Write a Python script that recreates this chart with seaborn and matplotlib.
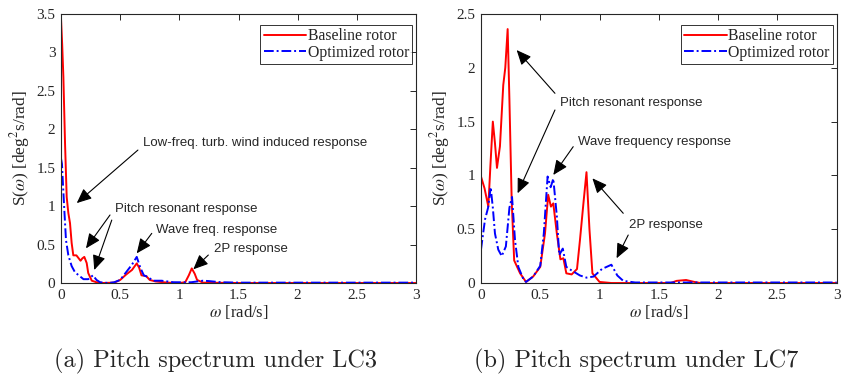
import numpy as np
import pandas as pd
import matplotlib
matplotlib.use("Agg")
import matplotlib.pyplot as plt
import seaborn as sns

# LC3 pitch spectrum
w_lc3_base = [0.0, 0.01, 0.02, 0.034, 0.048, 0.062, 0.076, 0.09, 0.104, 0.13, 0.15, 0.165, 0.18,
              0.197, 0.217, 0.23, 0.26, 0.3, 0.35, 0.45, 0.5, 0.55, 0.6, 0.64, 0.66, 0.68, 0.72,
              0.75, 0.8, 0.9, 1.0, 1.05, 1.08, 1.105, 1.13, 1.15, 1.2, 1.5, 2.0, 2.5, 3.0]
s_lc3_base = [3.44, 3.1, 2.68, 1.82, 1.12, 0.91, 0.78, 0.52, 0.36, 0.36, 0.32, 0.29, 0.32,
              0.34, 0.26, 0.13, 0.03, 0.01, 0.0, 0.005, 0.04, 0.11, 0.17, 0.255, 0.2, 0.1, 0.09,
              0.04, 0.02, 0.005, 0.0, 0.01, 0.1, 0.19, 0.12, 0.04, 0.005, 0.0, 0.0, 0.0, 0.0]

w_lc3_opt = [0.0, 0.008, 0.016, 0.028, 0.042, 0.062, 0.09, 0.118, 0.15, 0.19, 0.23, 0.27, 0.3,
             0.33, 0.4, 0.45, 0.5, 0.55, 0.6, 0.64, 0.67, 0.7, 0.73, 0.78, 0.85, 0.95, 1.1,
             1.2, 1.25, 1.35, 1.5, 2.0, 2.5, 3.0]
s_lc3_opt = [1.62, 1.55, 1.3, 0.95, 0.56, 0.36, 0.22, 0.14, 0.1, 0.05, 0.05, 0.1, 0.04,
             0.01, 0.0, 0.01, 0.04, 0.14, 0.24, 0.34, 0.2, 0.1, 0.08, 0.03, 0.03, 0.01, 0.01,
             0.03, 0.025, 0.01, 0.005, 0.005, 0.005, 0.005]

# LC7 pitch spectrum
w_lc7_base = [0.0, 0.03, 0.062, 0.08, 0.1, 0.118, 0.135, 0.16, 0.188, 0.205, 0.225, 0.24, 0.259,
              0.28, 0.33, 0.38, 0.44, 0.5, 0.54, 0.567, 0.59, 0.61, 0.64, 0.67, 0.695, 0.72,
              0.765, 0.81, 0.835, 0.865, 0.89, 0.915, 0.94, 1.0, 1.1, 1.6, 1.65, 1.73, 1.8, 1.85,
              2.5, 3.0]
s_lc7_base = [0.99, 0.88, 0.71, 1.1, 1.5, 1.3, 1.07, 1.27, 1.84, 2.0, 2.36, 1.7, 0.77,
              0.21, 0.09, 0.01, 0.06, 0.15, 0.46, 0.82, 0.71, 0.74, 0.46, 0.22, 0.23, 0.09,
              0.08, 0.13, 0.4, 0.75, 1.03, 0.5, 0.09, 0.01, 0.0, 0.0, 0.02, 0.028, 0.01, 0.0,
              0.0, 0.0]

w_lc7_opt = [0.0, 0.034, 0.06, 0.082, 0.1, 0.118, 0.146, 0.175, 0.21, 0.24, 0.262, 0.287, 0.315,
             0.36, 0.38, 0.44, 0.5, 0.53, 0.562, 0.588, 0.61, 0.64, 0.66, 0.69, 0.72, 0.76,
             0.835, 0.89, 0.95, 1.02, 1.1, 1.15, 1.2, 1.3, 2.0, 3.0]
s_lc7_opt = [0.31, 0.59, 0.7, 0.89, 0.7, 0.46, 0.31, 0.25, 0.34, 0.7, 0.8, 0.4, 0.15,
             0.03, 0.01, 0.06, 0.16, 0.46, 0.99, 0.89, 0.97, 0.62, 0.26, 0.32, 0.15, 0.12,
             0.07, 0.05, 0.06, 0.13, 0.17, 0.07, 0.02, 0.005, 0.005, 0.005]

xticks = [0, 0.5, 1, 1.5, 2, 2.5, 3]
yticks_a = [0, 0.5, 1, 1.5, 2, 2.5, 3, 3.5]
yticks_b = [0, 0.5, 1, 1.5, 2, 2.5]
tick_labels_x = ["0", "0.5", "1", "1.5", "2", "2.5", "3"]
series_names = ["Baseline rotor", "Optimized rotor"]
captions = ["(a) Pitch spectrum under LC3", "(b) Pitch spectrum under LC7"]

sns.set_style("white")
plt.rcParams["font.family"] = ["Liberation Serif", "DejaVu Serif"]
plt.rcParams["mathtext.fontset"] = "stix"

fig = plt.figure(figsize=(8.45, 3.86), dpi=100)
ax_a = fig.add_axes([0.0722, 0.2668, 0.4201, 0.6969])
ax_b = fig.add_axes([0.5692, 0.2668, 0.4209, 0.6969])

arrow = dict(arrowstyle="-|>,head_length=0.5,head_width=0.22", color="k", lw=0.8,
             mutation_scale=18, shrinkA=0, shrinkB=0)
ann_font = dict(family="Liberation Sans", fontsize=9.5, va="center", ha="left")


def draw_panel(ax, wb, sb, wo, so, yticks):
    base = pd.DataFrame({"w": wb, "S": sb})
    opt = pd.DataFrame({"w": wo, "S": so})
    sns.lineplot(data=base, x="w", y="S", ax=ax, color="#ff0000", lw=1.4,
                 label=series_names[0])
    sns.lineplot(data=opt, x="w", y="S", ax=ax, color="#0000ff", lw=1.4,
                 linestyle=(0, (5, 1.5, 1, 1.5)), label=series_names[1])
    ax.set_xlim(0, 3)
    ax.set_ylim(0, yticks[-1])
    ax.set_xticks(xticks)
    ax.set_xticklabels(tick_labels_x)
    ax.set_yticks(yticks)
    ax.set_yticklabels([f"{t:g}" for t in yticks])
    ax.tick_params(direction="in", top=True, right=True, length=4, width=0.7,
                   labelsize=11, colors="#262626", pad=4)
    for sp in ax.spines.values():
        sp.set_visible(True)
        sp.set_color("#262626")
        sp.set_linewidth(0.8)
    ax.set_xlabel(r"$\omega$ [rad/s]", fontsize=12, color="#262626", labelpad=1)
    ax.set_ylabel(r"S($\omega$) [deg$^2$s/rad]", fontsize=12.5, color="#262626", labelpad=3)
    leg = ax.legend(loc="upper right", bbox_to_anchor=(0.989, 0.959), borderaxespad=0,
                    fontsize=11.3, frameon=True, fancybox=False, edgecolor="k",
                    handlelength=2.7, handletextpad=0.1, borderpad=0.2, labelspacing=0.05)
    leg.get_frame().set_linewidth(0.7)


draw_panel(ax_a, w_lc3_base, s_lc3_base, w_lc3_opt, s_lc3_opt, yticks_a)
draw_panel(ax_b, w_lc7_base, s_lc7_base, w_lc7_opt, s_lc7_opt, yticks_b)

# annotations, panel (a)
ax_a.text(0.693, 1.82, "Low-freq. turb. wind induced response", **ann_font)
ax_a.annotate("", xy=(0.133, 1.04), xytext=(0.65, 1.73), arrowprops=arrow)
ax_a.text(0.456, 0.958, "Pitch resonant response", **ann_font)
ax_a.annotate("", xy=(0.211, 0.451), xytext=(0.414, 0.885), arrowprops=arrow)
ax_a.annotate("", xy=(0.281, 0.169), xytext=(0.429, 0.819), arrowprops=arrow)
ax_a.text(0.806, 0.689, "Wave freq. response", **ann_font)
ax_a.annotate("", xy=(0.64, 0.386), xytext=(0.767, 0.646), arrowprops=arrow)
ax_a.text(1.293, 0.438, "2P response", **ann_font)
ax_a.annotate("", xy=(1.118, 0.178), xytext=(1.245, 0.364), arrowprops=arrow)

# annotations, panel (b)
ax_b.text(0.666, 1.67, "Pitch resonant response", **ann_font)
ax_b.annotate("", xy=(0.301, 2.165), xytext=(0.624, 1.763), arrowprops=arrow)
ax_b.annotate("", xy=(0.309, 0.834), xytext=(0.624, 1.608), arrowprops=arrow)
ax_b.text(0.82, 1.313, "Wave frequency response", **ann_font)
ax_b.annotate("", xy=(0.61, 1.004), xytext=(0.778, 1.267), arrowprops=arrow)
ax_b.text(1.248, 0.539, "2P response", **ann_font)
ax_b.annotate("", xy=(0.94, 0.973), xytext=(1.2, 0.648), arrowprops=arrow)
ax_b.annotate("", xy=(1.144, 0.23), xytext=(1.242, 0.446), arrowprops=arrow)

fig.text(215.5 / 845, 1 - 361 / 386, captions[0], family="cmr10", fontsize=17.5,
         ha="center", va="center")
fig.text(636 / 845, 1 - 361 / 386, captions[1], family="cmr10", fontsize=17.5,
         ha="center", va="center")

fig.savefig("out.png", dpi=100)
